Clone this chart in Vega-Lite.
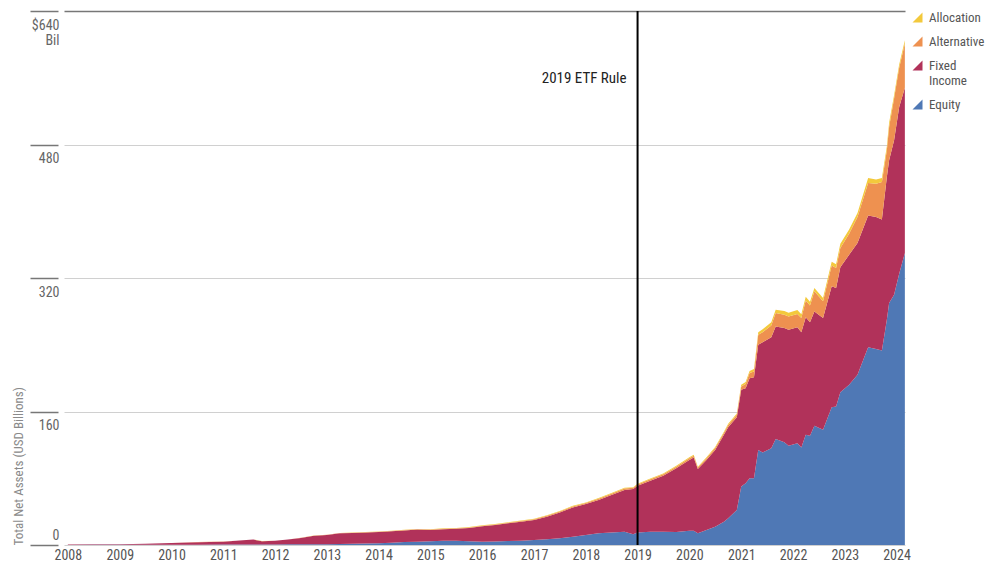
{
  "$schema": "https://vega.github.io/schema/vega-lite/v6.json",
  "width": 841,
  "height": 534,
  "autosize": {"type": "none"},
  "padding": {"left": 64, "top": 11, "right": 96, "bottom": 17},
  "background": "white",
  "config": {
    "view": {"stroke": null},
    "font": "Roboto Condensed, Liberation Sans Narrow, Roboto, sans-serif"
  },
  "layer": [
    {
      "data": {
        "values": [
          {"date": "2008-01-01", "Equity": 0.1, "Fixed Income": 0.4, "Alternative": 0, "Allocation": 0},
          {"date": "2008-07-01", "Equity": 0.2, "Fixed Income": 0.6, "Alternative": 0, "Allocation": 0},
          {"date": "2009-01-01", "Equity": 0.2, "Fixed Income": 0.8, "Alternative": 0, "Allocation": 0},
          {"date": "2009-07-01", "Equity": 0.3, "Fixed Income": 1.2, "Alternative": 0, "Allocation": 0},
          {"date": "2010-01-01", "Equity": 0.3, "Fixed Income": 2.0, "Alternative": 0.05, "Allocation": 0},
          {"date": "2010-07-01", "Equity": 0.4, "Fixed Income": 3.0, "Alternative": 0.1, "Allocation": 0},
          {"date": "2011-01-01", "Equity": 0.5, "Fixed Income": 3.5, "Alternative": 0.1, "Allocation": 0},
          {"date": "2011-04-01", "Equity": 0.5, "Fixed Income": 4.5, "Alternative": 0.1, "Allocation": 0},
          {"date": "2011-08-01", "Equity": 0.6, "Fixed Income": 5.9, "Alternative": 0.1, "Allocation": 0.05},
          {"date": "2011-10-01", "Equity": 0.6, "Fixed Income": 3.9, "Alternative": 0.1, "Allocation": 0.05},
          {"date": "2012-01-01", "Equity": 0.7, "Fixed Income": 4.3, "Alternative": 0.1, "Allocation": 0.05},
          {"date": "2012-04-01", "Equity": 0.8, "Fixed Income": 5.7, "Alternative": 0.1, "Allocation": 0.1},
          {"date": "2012-07-01", "Equity": 0.9, "Fixed Income": 7.6, "Alternative": 0.2, "Allocation": 0.1},
          {"date": "2012-10-01", "Equity": 1.0, "Fixed Income": 10.0, "Alternative": 0.2, "Allocation": 0.1},
          {"date": "2013-01-01", "Equity": 1.0, "Fixed Income": 11.0, "Alternative": 0.2, "Allocation": 0.1},
          {"date": "2013-04-01", "Equity": 1.2, "Fixed Income": 12.8, "Alternative": 0.3, "Allocation": 0.2},
          {"date": "2013-07-01", "Equity": 1.5, "Fixed Income": 13.0, "Alternative": 0.3, "Allocation": 0.2},
          {"date": "2013-10-01", "Equity": 1.8, "Fixed Income": 13.2, "Alternative": 0.3, "Allocation": 0.2},
          {"date": "2014-01-01", "Equity": 2.0, "Fixed Income": 13.5, "Alternative": 0.4, "Allocation": 0.3},
          {"date": "2014-04-01", "Equity": 2.8, "Fixed Income": 13.7, "Alternative": 0.4, "Allocation": 0.3},
          {"date": "2014-07-01", "Equity": 3.5, "Fixed Income": 14.0, "Alternative": 0.5, "Allocation": 0.3},
          {"date": "2014-10-01", "Equity": 4.0, "Fixed Income": 14.5, "Alternative": 0.5, "Allocation": 0.3},
          {"date": "2015-01-01", "Equity": 4.5, "Fixed Income": 13.5, "Alternative": 0.6, "Allocation": 0.4},
          {"date": "2015-04-01", "Equity": 5.0, "Fixed Income": 14.0, "Alternative": 0.6, "Allocation": 0.4},
          {"date": "2015-07-01", "Equity": 5.0, "Fixed Income": 14.5, "Alternative": 0.6, "Allocation": 0.4},
          {"date": "2015-10-01", "Equity": 4.5, "Fixed Income": 16.0, "Alternative": 0.6, "Allocation": 0.4},
          {"date": "2016-01-01", "Equity": 4.0, "Fixed Income": 18.5, "Alternative": 0.7, "Allocation": 0.4},
          {"date": "2016-04-01", "Equity": 4.2, "Fixed Income": 19.8, "Alternative": 0.7, "Allocation": 0.5},
          {"date": "2016-07-01", "Equity": 4.8, "Fixed Income": 21.2, "Alternative": 0.8, "Allocation": 0.5},
          {"date": "2016-10-01", "Equity": 5.2, "Fixed Income": 22.8, "Alternative": 0.8, "Allocation": 0.5},
          {"date": "2017-01-01", "Equity": 6.0, "Fixed Income": 24.0, "Alternative": 0.9, "Allocation": 0.5},
          {"date": "2017-04-01", "Equity": 7.0, "Fixed Income": 27.0, "Alternative": 1.0, "Allocation": 0.6},
          {"date": "2017-07-01", "Equity": 8.0, "Fixed Income": 31.0, "Alternative": 1.1, "Allocation": 0.6},
          {"date": "2017-10-01", "Equity": 10, "Fixed Income": 35, "Alternative": 1.2, "Allocation": 0.7},
          {"date": "2018-01-01", "Equity": 12, "Fixed Income": 37, "Alternative": 1.3, "Allocation": 0.7},
          {"date": "2018-04-01", "Equity": 14, "Fixed Income": 40, "Alternative": 1.4, "Allocation": 0.8},
          {"date": "2018-07-01", "Equity": 15, "Fixed Income": 45, "Alternative": 1.5, "Allocation": 0.8},
          {"date": "2018-10-01", "Equity": 16, "Fixed Income": 50, "Alternative": 1.6, "Allocation": 0.9},
          {"date": "2018-12-01", "Equity": 13, "Fixed Income": 54, "Alternative": 1.5, "Allocation": 0.8},
          {"date": "2019-01-01", "Equity": 15, "Fixed Income": 56, "Alternative": 1.6, "Allocation": 0.9},
          {"date": "2019-04-01", "Equity": 16, "Fixed Income": 61, "Alternative": 1.7, "Allocation": 0.9},
          {"date": "2019-07-01", "Equity": 16, "Fixed Income": 67, "Alternative": 1.8, "Allocation": 1.0},
          {"date": "2019-10-01", "Equity": 15.5, "Fixed Income": 76.5, "Alternative": 1.9, "Allocation": 1.0},
          {"date": "2020-01-01", "Equity": 17, "Fixed Income": 85, "Alternative": 2.0, "Allocation": 1.1},
          {"date": "2020-02-01", "Equity": 17, "Fixed Income": 88, "Alternative": 2.1, "Allocation": 1.1},
          {"date": "2020-03-01", "Equity": 14, "Fixed Income": 77, "Alternative": 1.9, "Allocation": 1.0},
          {"date": "2020-05-01", "Equity": 18, "Fixed Income": 84, "Alternative": 2.0, "Allocation": 1.1},
          {"date": "2020-07-01", "Equity": 22, "Fixed Income": 92, "Alternative": 2.2, "Allocation": 1.2},
          {"date": "2020-09-01", "Equity": 28, "Fixed Income": 104, "Alternative": 2.5, "Allocation": 1.3},
          {"date": "2020-10-01", "Equity": 32, "Fixed Income": 109, "Alternative": 2.8, "Allocation": 1.4},
          {"date": "2020-12-01", "Equity": 42, "Fixed Income": 111, "Alternative": 3.0, "Allocation": 1.5},
          {"date": "2021-01-01", "Equity": 70, "Fixed Income": 116, "Alternative": 4, "Allocation": 2},
          {"date": "2021-02-01", "Equity": 74, "Fixed Income": 114, "Alternative": 5, "Allocation": 2.5},
          {"date": "2021-03-01", "Equity": 80, "Fixed Income": 120, "Alternative": 6, "Allocation": 2.5},
          {"date": "2021-04-01", "Equity": 80, "Fixed Income": 121, "Alternative": 7, "Allocation": 3},
          {"date": "2021-05-01", "Equity": 114, "Fixed Income": 126, "Alternative": 12, "Allocation": 3},
          {"date": "2021-06-01", "Equity": 111, "Fixed Income": 132, "Alternative": 12, "Allocation": 3.5},
          {"date": "2021-08-01", "Equity": 116, "Fixed Income": 133, "Alternative": 14, "Allocation": 4},
          {"date": "2021-09-01", "Equity": 127, "Fixed Income": 135, "Alternative": 16, "Allocation": 4},
          {"date": "2021-11-01", "Equity": 123, "Fixed Income": 137, "Alternative": 16, "Allocation": 4.5},
          {"date": "2021-12-01", "Equity": 119, "Fixed Income": 139, "Alternative": 16, "Allocation": 4.5},
          {"date": "2022-02-01", "Equity": 122, "Fixed Income": 139, "Alternative": 16, "Allocation": 4.5},
          {"date": "2022-03-01", "Equity": 117, "Fixed Income": 138, "Alternative": 17, "Allocation": 4.5},
          {"date": "2022-04-01", "Equity": 132, "Fixed Income": 141, "Alternative": 20, "Allocation": 4.5},
          {"date": "2022-05-01", "Equity": 131, "Fixed Income": 136, "Alternative": 20, "Allocation": 4.5},
          {"date": "2022-06-01", "Equity": 143, "Fixed Income": 137, "Alternative": 24, "Allocation": 4},
          {"date": "2022-08-01", "Equity": 138, "Fixed Income": 134, "Alternative": 20, "Allocation": 4},
          {"date": "2022-10-01", "Equity": 165, "Fixed Income": 145, "Alternative": 25, "Allocation": 4.5},
          {"date": "2022-11-01", "Equity": 166, "Fixed Income": 142, "Alternative": 24, "Allocation": 4.5},
          {"date": "2022-12-01", "Equity": 183, "Fixed Income": 150, "Alternative": 23, "Allocation": 5},
          {"date": "2023-02-01", "Equity": 192, "Fixed Income": 156, "Alternative": 25, "Allocation": 5},
          {"date": "2023-04-01", "Equity": 204, "Fixed Income": 158, "Alternative": 31, "Allocation": 5},
          {"date": "2023-06-15", "Equity": 237, "Fixed Income": 158, "Alternative": 39, "Allocation": 6},
          {"date": "2023-08-10", "Equity": 235, "Fixed Income": 158, "Alternative": 40, "Allocation": 5},
          {"date": "2023-09-20", "Equity": 233, "Fixed Income": 157, "Alternative": 45, "Allocation": 5},
          {"date": "2023-10-25", "Equity": 270, "Fixed Income": 171, "Alternative": 32, "Allocation": 5},
          {"date": "2023-11-10", "Equity": 290, "Fixed Income": 171, "Alternative": 40, "Allocation": 5},
          {"date": "2023-12-15", "Equity": 300, "Fixed Income": 185, "Alternative": 50, "Allocation": 4},
          {"date": "2024-01-20", "Equity": 325, "Fixed Income": 200, "Alternative": 47, "Allocation": 4},
          {"date": "2024-02-29", "Equity": 350, "Fixed Income": 198, "Alternative": 53, "Allocation": 4}
        ]
      },
      "transform": [
        {"fold": ["Equity", "Fixed Income", "Alternative", "Allocation"], "as": ["category", "value"]},
        {"window": [{"op": "row_number", "as": "stackRank"}], "groupby": ["date"]}
      ],
      "mark": {"type": "area", "interpolate": "linear"},
      "encoding": {
        "x": {
          "field": "date",
          "type": "temporal",
          "scale": {
            "type": "utc",
            "domain": [
              {"year": 2007, "month": 12, "date": 5, "utc": true},
              {"year": 2024, "month": 3, "date": 1, "utc": true}
            ]
          },
          "axis": {
            "title": null,
            "format": "%Y",
            "tickCount": {"interval": "year", "step": 1},
            "ticks": false,
            "domain": false,
            "grid": false,
            "labelFlush": false,
            "labelOverlap": false,
            "labelFontSize": 14,
            "labelColor": "#555555",
            "labelPadding": 3
          }
        },
        "y": {
          "field": "value",
          "type": "quantitative",
          "stack": "zero",
          "scale": {"domain": [0, 640], "nice": false, "zero": true},
          "axis": {
            "title": "Total Net Assets (USD Billions)",
            "titleFontSize": 13,
            "titleFontWeight": "normal",
            "titleColor": "#8a8a8a",
            "titleAngle": -90,
            "titleAlign": "left",
            "titleBaseline": "bottom",
            "titleX": -33,
            "titleY": 534,
            "values": [0, 160, 320, 480, 640],
            "offset": 6,
            "tickSize": 28,
            "tickColor": "#777777",
            "tickWidth": 1.5,
            "domain": false,
            "grid": true,
            "gridColor": {"condition": {"test": "datum.value == 640", "value": "#777777"}, "value": "#d0d0d0"},
            "gridWidth": {"condition": {"test": "datum.value == 640", "value": 1.5}, "value": 1},
            "labelAlign": "right",
            "labelPadding": -29,
            "labelBaseline": {"condition": {"test": "datum.value == 0", "value": "bottom"}, "value": "top"},
            "labelOffset": {"condition": {"test": "datum.value == 0", "value": -3}, "value": 7},
            "labelExpr": "datum.value == 640 ? ['$640', 'Bil'] : datum.label",
            "labelLineHeight": 15,
            "labelFontSize": 14,
            "labelColor": "#666666"
          }
        },
        "color": {
          "field": "category",
          "type": "nominal",
          "scale": {
            "domain": ["Allocation", "Alternative", "Fixed Income", "Equity"],
            "range": ["#F3C93C", "#EE9150", "#B1325A", "#4F78B5"]
          },
          "legend": {
            "title": null,
            "orient": "right",
            "offset": 6,
            "padding": 0,
            "symbolType": "M 1 1 L 1 -1 L -1 1 Z",
            "symbolSize": 100,
            "symbolStrokeWidth": 0,
            "labelFontSize": 13,
            "labelColor": "#555555",
            "labelLineHeight": 19,
            "labelOffset": 5,
            "rowPadding": 10,
            "labelExpr": "datum.label == 'Fixed Income' ? ['Fixed', 'Income'] : datum.label"
          }
        },
        "order": {"field": "stackRank", "type": "quantitative", "sort": "ascending"}
      }
    },
    {
      "data": {"values": [{}]},
      "mark": {"type": "rule", "color": "black", "strokeWidth": 2},
      "encoding": {
        "x": {"datum": {"year": 2019, "month": 1, "date": 1, "utc": true}, "type": "temporal"}
      }
    },
    {
      "data": {"values": [{}]},
      "mark": {"type": "text", "align": "right", "baseline": "middle", "dx": -11, "fontSize": 15, "color": "#222222"},
      "encoding": {
        "x": {"datum": {"year": 2019, "month": 1, "date": 1, "utc": true}, "type": "temporal"},
        "y": {"datum": 560, "type": "quantitative"},
        "text": {"value": "2019 ETF Rule"}
      }
    }
  ]
}
